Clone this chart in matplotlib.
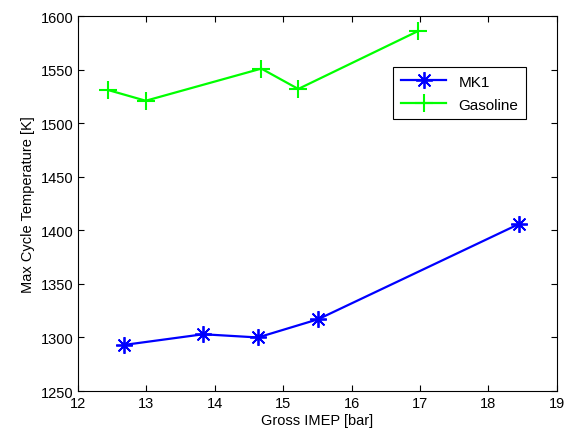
import matplotlib.pyplot as plt

plt.rcParams['font.family'] = ['Liberation Sans', 'DejaVu Sans']
plt.rcParams['font.size'] = 10

# MK1 and gasoline runs
imep_mk1 = [12.67, 13.83, 14.63, 15.51, 18.45]
tmax_mk1 = [1293, 1303, 1300, 1317, 1406]
imep_gas = [12.44, 12.99, 14.68, 15.22, 16.97]
tmax_gas = [1531, 1521, 1551, 1532, 1586]

fig = plt.figure(figsize=(5.67, 4.39), dpi=100)
ax = fig.add_axes([0.1376, 0.107, 0.8444, 0.854])
# 8-spoke asterisk marker
ax.plot(imep_mk1, tmax_mk1, color='#0000ff', marker=(8, 2, 0), markersize=12,
        markeredgewidth=1.3, linewidth=1.6, label='MK1')
ax.plot(imep_gas, tmax_gas, color='#00ff00', marker='+', markersize=13,
        markeredgewidth=1.5, linewidth=1.6, label='Gasoline')
ax.set_xlim(12, 19)
ax.set_ylim(1250, 1600)
ax.set_xticks(range(12, 20))
ax.set_yticks(range(1250, 1601, 50))
ax.tick_params(direction='in', top=True, right=True, length=4, labelsize=10.5)
ax.set_xlabel('Gross IMEP [bar]', fontsize=10.5, labelpad=2)
ax.set_ylabel('Max Cycle Temperature [K]', fontsize=10.5)
leg = ax.legend(loc='upper right', bbox_to_anchor=(0.952, 0.885), fancybox=False,
                edgecolor='black', framealpha=1, fontsize=11, handlelength=3.0,
                labelspacing=0.6, borderpad=0.5)
leg.get_frame().set_linewidth(0.8)
fig.savefig('out.png', dpi=100)
